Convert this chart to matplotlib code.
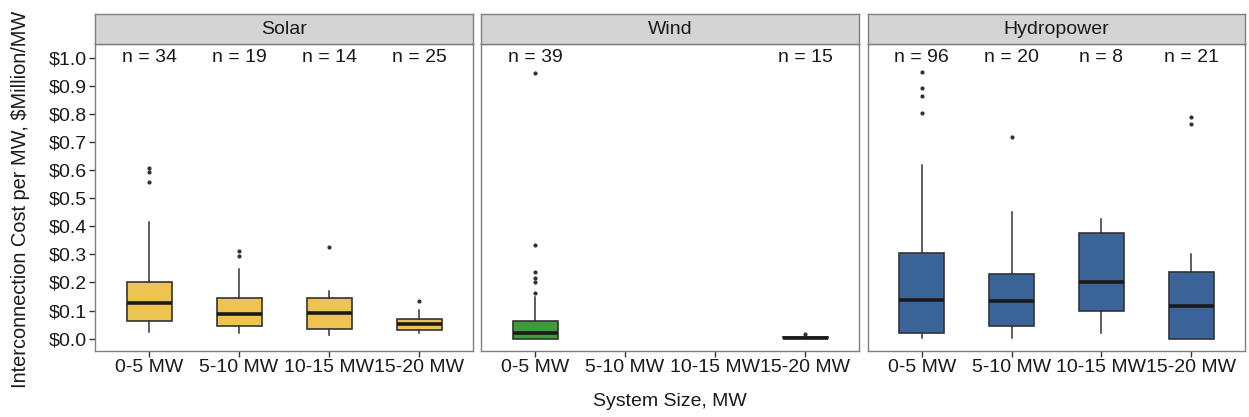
import matplotlib
matplotlib.use('Agg')
import matplotlib.pyplot as plt
from matplotlib.ticker import FuncFormatter

plt.rcParams['font.family'] = ['Liberation Sans', 'DejaVu Sans']

# ---- data (values in $Million/MW) ----
categories = ['0-5 MW', '5-10 MW', '10-15 MW', '15-20 MW']
panels = ['Solar', 'Wind', 'Hydropower']
colors = {'Solar': '#EDC452', 'Wind': '#3F9A3A', 'Hydropower': '#3B6499'}

# per panel: category index -> (low whisker, Q1, median, Q3, high whisker)
solar_stats = [(0.025, 0.063, 0.127, 0.203, 0.416),
               (0.019, 0.046, 0.087, 0.146, 0.247),
               (0.013, 0.036, 0.093, 0.146, 0.170),
               (0.019, 0.032, 0.051, 0.070, 0.101)]
solar_fliers = [[0.609, 0.594, 0.559], [0.313, 0.295], [0.325], [0.134]]
solar_n = [34, 19, 14, 25]
solar_pos = [0, 1, 2, 3]

wind_stats = [(0.000, 0.000, 0.019, 0.063, 0.149),
              (0.000, 0.001, 0.003, 0.005, 0.005)]
wind_fliers = [[0.164, 0.203, 0.217, 0.238, 0.333, 0.947], [0.017]]
wind_n = [39, 15]
wind_pos = [0, 3]

hydro_stats = [(0.001, 0.021, 0.138, 0.304, 0.618),
               (0.001, 0.046, 0.135, 0.230, 0.450),
               (0.019, 0.100, 0.203, 0.375, 0.426),
               (0.000, 0.000, 0.117, 0.236, 0.301)]
hydro_fliers = [[0.950, 0.891, 0.864, 0.802], [0.719], [], [0.788, 0.764]]
hydro_n = [96, 20, 8, 21]
hydro_pos = [0, 1, 2, 3]

data = {
    'Solar': (solar_stats, solar_fliers, solar_n, solar_pos),
    'Wind': (wind_stats, wind_fliers, wind_n, wind_pos),
    'Hydropower': (hydro_stats, hydro_fliers, hydro_n, hydro_pos),
}

W, H = 1249, 417
fig = plt.figure(figsize=(W / 100, H / 100), dpi=100)

panel_x = [(95, 473), (481, 859), (868, 1245)]
p_top, p_bot, s_top = 44, 351, 14
border = '#7F7F7F'

for i, name in enumerate(panels):
    x0, x1 = panel_x[i]
    ax = fig.add_axes([x0 / W, 1 - p_bot / H, (x1 - x0) / W, (p_bot - p_top) / H])
    sax = fig.add_axes([x0 / W, 1 - p_top / H, (x1 - x0) / W, (p_top - s_top) / H])

    stats, fliers, ns, pos = data[name]
    bxp_stats = []
    for (lo, q1, med, q3, hi), fl in zip(stats, fliers):
        bxp_stats.append({'whislo': lo, 'q1': q1, 'med': med, 'q3': q3,
                          'whishi': hi, 'fliers': fl})
    ax.bxp(bxp_stats, positions=[p + 1 for p in pos], widths=0.5,
           patch_artist=True, showcaps=False,
           boxprops=dict(facecolor=colors[name], edgecolor='#333333', linewidth=1.2),
           medianprops=dict(color='#1A1A1A', linewidth=2.6),
           whiskerprops=dict(color='#333333', linewidth=1.1),
           flierprops=dict(marker='o', markersize=2.0, markerfacecolor='#333333',
                           markeredgecolor='#333333'))

    for p, n in zip(pos, ns):
        ax.text(p + 1, 1.0, f'n = {n}', ha='center', va='center', fontsize=14,
                color='#1A1A1A')

    ax.set_xlim(0.4, 4.6)
    ax.set_ylim(-0.044, 1.049)
    ax.set_xticks(range(1, 5))
    ax.set_xticklabels(categories, fontsize=14, color='#1A1A1A')
    ax.set_yticks([k / 10 for k in range(11)])
    ax.yaxis.set_major_formatter(FuncFormatter(lambda v, _: f'${v:.1f}'))
    ax.tick_params(axis='both', direction='out', length=4, width=1, color='#333333',
                   labelsize=14, labelcolor='#1A1A1A', pad=2)
    if i > 0:
        ax.tick_params(axis='y', left=False, labelleft=False)
    for sp in ax.spines.values():
        sp.set_color(border)
        sp.set_linewidth(1.0)

    sax.set_facecolor('#D4D4D4')
    sax.set_xticks([])
    sax.set_yticks([])
    for sp in sax.spines.values():
        sp.set_color(border)
        sp.set_linewidth(1.0)
    sax.text(0.5, 0.5, name, ha='center', va='center', fontsize=14,
             color='#1A1A1A', transform=sax.transAxes)

fig.text(670 / W, 1 - 402 / H, 'System Size, MW', ha='center', va='center',
         fontsize=14, color='#1A1A1A')
fig.text(21 / W, 1 - 199 / H, 'Interconnection Cost per MW, $Million/MW',
         ha='center', va='center', rotation=90, fontsize=14.4, color='#1A1A1A')

fig.savefig('out.png', dpi=100)
